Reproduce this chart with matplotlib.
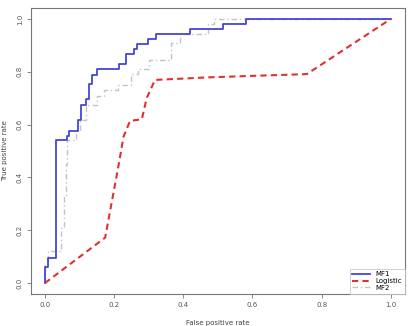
import matplotlib.pyplot as plt
import numpy as np

# ROC curves (false positive rate, true positive rate)
mf1_fpr = [0.0, 0.0, 0.01, 0.01, 0.031, 0.031, 0.063, 0.063, 0.07, 0.07, 0.094, 0.094,
           0.105, 0.105, 0.119, 0.119, 0.128, 0.128, 0.136, 0.136, 0.149, 0.149, 0.214,
           0.214, 0.235, 0.235, 0.258, 0.258, 0.267, 0.267, 0.299, 0.299, 0.321, 0.321,
           0.418, 0.418, 0.514, 0.514, 0.581, 0.581, 1.0]
mf1_tpr = [0.0, 0.06, 0.06, 0.096, 0.096, 0.541, 0.541, 0.557, 0.557, 0.576, 0.576, 0.617,
           0.617, 0.673, 0.673, 0.697, 0.697, 0.752, 0.752, 0.788, 0.788, 0.810, 0.810,
           0.828, 0.828, 0.867, 0.867, 0.886, 0.886, 0.904, 0.904, 0.924, 0.924, 0.944,
           0.944, 0.962, 0.962, 0.982, 0.982, 1.0, 1.0]

mf2_fpr = [0.0, 0.0, 0.01, 0.01, 0.045, 0.045, 0.055, 0.055, 0.06, 0.06, 0.065, 0.065,
           0.09, 0.09, 0.1, 0.1, 0.12, 0.12, 0.15, 0.15, 0.17, 0.17, 0.21, 0.21, 0.25,
           0.25, 0.27, 0.27, 0.30, 0.30, 0.365, 0.365, 0.39, 0.39, 0.47, 0.47, 0.49, 0.49, 1.0]
mf2_tpr = [0.0, 0.07, 0.07, 0.12, 0.12, 0.21, 0.21, 0.33, 0.33, 0.45, 0.45, 0.54, 0.54,
           0.576, 0.576, 0.617, 0.617, 0.673, 0.673, 0.71, 0.71, 0.73, 0.73, 0.75, 0.75,
           0.79, 0.79, 0.81, 0.81, 0.843, 0.843, 0.91, 0.91, 0.944, 0.944, 0.98, 0.98, 1.0, 1.0]

log_fpr = [0.0, 0.174, 0.214, 0.227, 0.246, 0.28, 0.294, 0.318, 0.477, 0.757, 1.0]
log_tpr = [0.0, 0.172, 0.455, 0.554, 0.614, 0.62, 0.70, 0.769, 0.779, 0.791, 1.0]

ticks = [0.0, 0.2, 0.4, 0.6, 0.8, 1.0]

fig = plt.figure(figsize=(4.1, 3.26), dpi=100)
ax = fig.add_axes([0.076, 0.0994, 0.911, 0.875])

ax.plot(mf2_fpr, mf2_tpr, color="#c4c4c4", lw=1.0, ls=(0, (4, 2, 1, 2)), label="MF2")
ax.plot(mf1_fpr, mf1_tpr, color="#4545d8", lw=1.3, label="MF1")
ax.plot(log_fpr, log_tpr, color="#e03030", lw=1.5, ls=(0, (3, 2)), label="Logistic")

ax.set_xlim(-0.04, 1.04)
ax.set_ylim(-0.04, 1.04)
ax.set_xticks(ticks)
ax.set_yticks(ticks)
ax.set_xticklabels([f"{t:.1f}" for t in ticks], fontsize=5, color="#555555")
ax.set_yticklabels([f"{t:.1f}" for t in ticks], fontsize=5, color="#555555",
                   rotation=90, va="center")
ax.tick_params(length=3, width=0.6, color="#777777", pad=3)
for s in ax.spines.values():
    s.set_color("#777777")
    s.set_linewidth(0.8)

ax.set_xlabel("False positive rate", fontsize=5, color="#444444", labelpad=9)
ax.set_ylabel("True positive rate", fontsize=5, color="#444444", labelpad=6)

h, l = ax.get_legend_handles_labels()
order = [1, 2, 0]
leg = ax.legend([h[i] for i in order], [l[i] for i in order], loc="lower right",
                fontsize=5, frameon=True, fancybox=False, borderaxespad=0,
                handlelength=2.5, labelspacing=0.1, borderpad=0.4)
leg.get_frame().set_edgecolor("#bbbbbb")
leg.get_frame().set_linewidth(0.6)

plt.savefig("out.png", dpi=100)
